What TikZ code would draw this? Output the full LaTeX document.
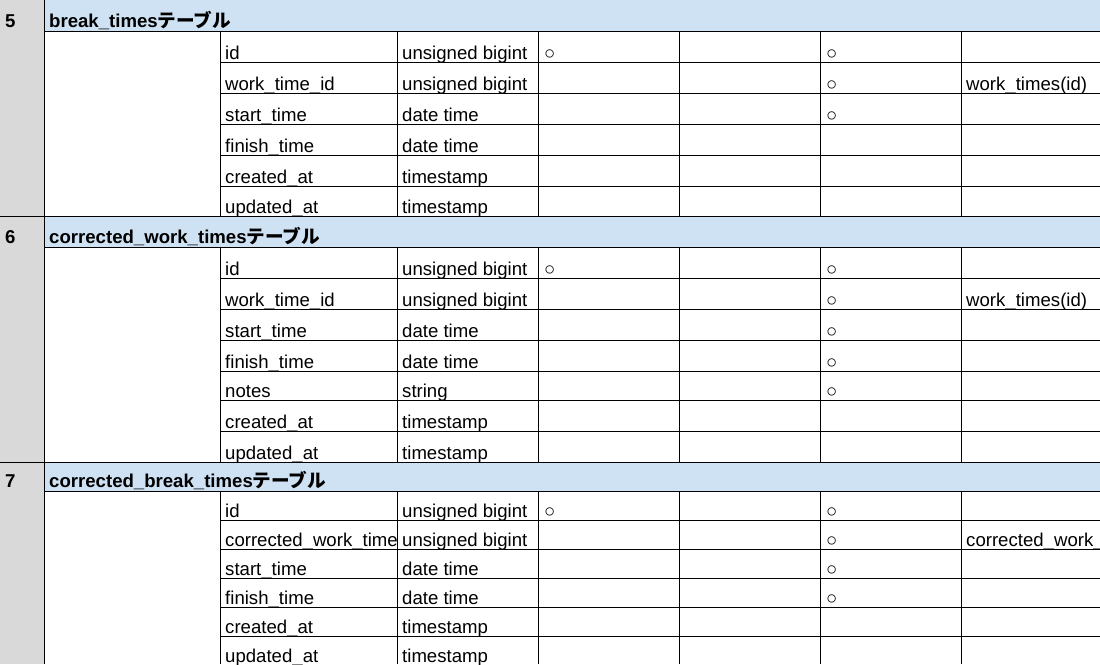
\documentclass[tikz,border=0pt]{standalone}
\usepackage{fontspec}
\setmainfont{Liberation Sans}
\newfontfamily\jpfont{Noto Sans CJK JP}
\definecolor{sidegray}{HTML}{D9D9D9}
\definecolor{headblue}{HTML}{CFE2F3}
\tikzset{
  cell/.style={anchor=base west, inner sep=0pt, font=\fontsize{18.6}{22}\selectfont},
  headcell/.style={cell, font=\fontsize{18.6}{22}\selectfont\bfseries},
  gridline/.style={line width=1pt}
}
\begin{document}
\begin{tikzpicture}[x=1pt,y=-1pt]
                \useasboundingbox (0,0) rectangle (1100,664);
                \clip (0,0) rectangle (1100,664);

                \fill[sidegray] (0,0) rectangle (44,664);
                \fill[headblue] (44,0) rectangle (1100,31);
                \fill[headblue] (44,216) rectangle (1100,247);
                \fill[headblue] (44,462) rectangle (1100,491);

                \draw[gridline] (44,0) -- (44,664);
                \draw[gridline] (0,216) -- (1100,216);
                \draw[gridline] (0,462) -- (1100,462);
                \foreach \y in {31,247,491}
                  \draw[gridline] (44,\y) -- (1100,\y);
                \foreach \y in {62,93,124,155,186,278,309,340,371,400,431,520,549,578,607,636}
                  \draw[gridline] (220,\y) -- (1100,\y);
                \foreach \x in {220,397,538,679,820,961} {
                  \draw[gridline] (\x,31) -- (\x,216);
                  \draw[gridline] (\x,247) -- (\x,462);
                  \draw[gridline] (\x,491) -- (\x,664);
                }

                % break_times
                \node[headcell] (n5) at (5,27) {5};
                \node[headcell] (h5) at (49,27) {break\_times{\jpfont テーブル}};
                \node[cell] (f5a) at (225,59) {id};
                \node[cell] (t5a) at (402,59) {unsigned bigint};
                \node[cell] (p5a) at (544,59) {○};
                \node[cell] (u5a) at (826,59) {○};
                \node[cell] (f5b) at (225,90) {work\_time\_id};
                \node[cell] (t5b) at (402,90) {unsigned bigint};
                \node[cell] (u5b) at (826,90) {○};
                \node[cell] (r5b) at (966,90) {work\_times(id)};
                \node[cell] (f5c) at (225,121) {start\_time};
                \node[cell] (t5c) at (402,121) {date time};
                \node[cell] (u5c) at (826,121) {○};
                \node[cell] (f5d) at (225,152) {finish\_time};
                \node[cell] (t5d) at (402,152) {date time};
                \node[cell] (f5e) at (225,183) {created\_at};
                \node[cell] (t5e) at (402,183) {timestamp};
                \node[cell] (f5f) at (225,213) {updated\_at};
                \node[cell] (t5f) at (402,213) {timestamp};

                % corrected_work_times
                \node[headcell] (n6) at (5,243) {6};
                \node[headcell] (h6) at (49,243) {corrected\_work\_times{\jpfont テーブル}};
                \node[cell] (f6a) at (225,275) {id};
                \node[cell] (t6a) at (402,275) {unsigned bigint};
                \node[cell] (p6a) at (544,275) {○};
                \node[cell] (u6a) at (826,275) {○};
                \node[cell] (f6b) at (225,306) {work\_time\_id};
                \node[cell] (t6b) at (402,306) {unsigned bigint};
                \node[cell] (u6b) at (826,306) {○};
                \node[cell] (r6b) at (966,306) {work\_times(id)};
                \node[cell] (f6c) at (225,337) {start\_time};
                \node[cell] (t6c) at (402,337) {date time};
                \node[cell] (u6c) at (826,337) {○};
                \node[cell] (f6d) at (225,368) {finish\_time};
                \node[cell] (t6d) at (402,368) {date time};
                \node[cell] (u6d) at (826,368) {○};
                \node[cell] (f6e) at (225,397) {notes};
                \node[cell] (t6e) at (402,397) {string};
                \node[cell] (u6e) at (826,397) {○};
                \node[cell] (f6f) at (225,428) {created\_at};
                \node[cell] (t6f) at (402,428) {timestamp};
                \node[cell] (f6g) at (225,459) {updated\_at};
                \node[cell] (t6g) at (402,459) {timestamp};

                % corrected_break_times
                \node[headcell] (n7) at (5,487) {7};
                \node[headcell] (h7) at (49,487) {corrected\_break\_times{\jpfont テーブル}};
                \node[cell] (f7a) at (225,517) {id};
                \node[cell] (t7a) at (402,517) {unsigned bigint};
                \node[cell] (p7a) at (544,517) {○};
                \node[cell] (u7a) at (826,517) {○};
                \node[cell] (f7b) at (225,546) {corrected\_work\_time};
                \node[cell] (t7b) at (402,546) {unsigned bigint};
                \node[cell] (u7b) at (826,546) {○};
                \node[cell] (r7b) at (966,546) {corrected\_work\_};
                \node[cell] (f7c) at (225,575) {start\_time};
                \node[cell] (t7c) at (402,575) {date time};
                \node[cell] (u7c) at (826,575) {○};
                \node[cell] (f7d) at (225,604) {finish\_time};
                \node[cell] (t7d) at (402,604) {date time};
                \node[cell] (u7d) at (826,604) {○};
                \node[cell] (f7e) at (225,633) {created\_at};
                \node[cell] (t7e) at (402,633) {timestamp};
                \node[cell] (f7f) at (225,662) {updated\_at};
                \node[cell] (t7f) at (402,662) {timestamp};
            \end{tikzpicture}
\end{document}
